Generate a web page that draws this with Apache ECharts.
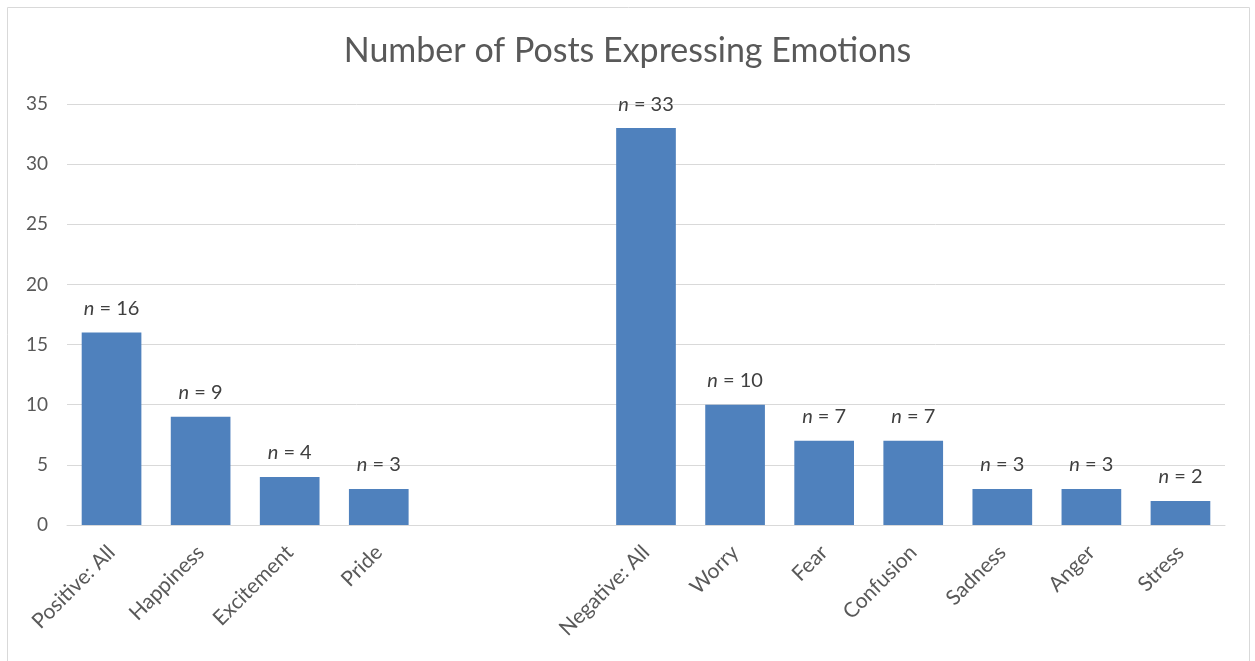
<!DOCTYPE html>
<html>
<head>
<meta charset="utf-8">
<script src="https://cdn.jsdelivr.net/npm/echarts@6/dist/echarts.min.js"></script>
<style>
  html, body { margin: 0; padding: 0; background: #fff; }
  #chart { width: 1255px; height: 661px; }
</style>
</head>
<body>
<div id="chart"></div>
<script>
// two blank slots separate the positive and negative groups
const categories = ['Positive: All', 'Happiness', 'Excitement', 'Pride', '', ' ',
  'Negative: All', 'Worry', 'Fear', 'Confusion', 'Sadness', 'Anger', 'Stress'];
const counts = [16, 9, 4, 3, '-', '-', 33, 10, 7, 7, 3, 3, 2];
const yTicks = { min: 0, max: 35, interval: 5 };

const font = 'Lato, "Open Sans", sans-serif';

const chart = echarts.init(document.getElementById('chart'));
chart.setOption({
  animation: false,
  title: {
    text: 'Number of Posts Expressing Emotions',
    left: 'center',
    top: 29,
    textStyle: { fontFamily: font, fontSize: 34, fontWeight: 'normal', color: '#595959' }
  },
  graphic: [{
    type: 'rect',
    shape: { x: 7.5, y: 7.5, width: 1242, height: 670 },
    style: { fill: 'none', stroke: '#d9d9d9', lineWidth: 1 },
    silent: true
  }],
  grid: { left: 67, right: 30, top: 104, bottom: 136 },
  xAxis: {
    type: 'category',
    data: categories,
    axisLine: { lineStyle: { color: '#d9d9d9', width: 1 } },
    axisTick: { show: false },
    axisLabel: {
      interval: 0,
      rotate: 45,
      margin: 24,
      fontFamily: font,
      fontSize: 21,
      color: '#595959'
    }
  },
  yAxis: {
    type: 'value',
    min: yTicks.min,
    max: yTicks.max,
    interval: yTicks.interval,
    axisLine: { show: false },
    axisTick: { show: false },
    splitLine: { lineStyle: { color: '#d9d9d9', width: 1 } },
    axisLabel: { fontFamily: font, fontSize: 19, color: '#595959', margin: 19 }
  },
  series: [{
    type: 'bar',
    data: counts,
    barCategoryGap: '33%',
    itemStyle: { color: '#4f81bd' },
    label: {
      show: true,
      position: 'top',
      distance: 14,
      formatter: p => '{i|n} = ' + p.value,
      fontFamily: font,
      fontSize: 20,
      color: '#404040',
      rich: {
        i: { fontStyle: 'italic', fontFamily: font, fontSize: 20, color: '#404040' }
      }
    }
  }]
});
</script>
</body>
</html>
